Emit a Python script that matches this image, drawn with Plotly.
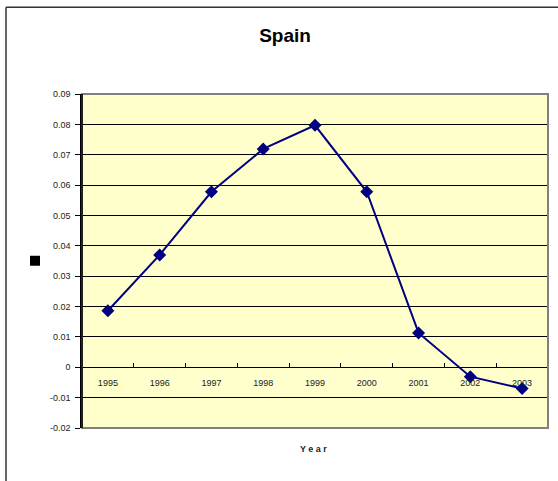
import plotly.graph_objects as go

years = ["1995", "1996", "1997", "1998", "1999", "2000", "2001", "2002", "2003"]
values = [0.0186, 0.0370, 0.0578, 0.0719, 0.0797, 0.0578, 0.0113, -0.0031, -0.0070]
y_ticks = [-0.02, -0.01, 0, 0.01, 0.02, 0.03, 0.04, 0.05, 0.06, 0.07, 0.08, 0.09]
y_tick_text = ["-0.02", "-0.01", "0", "0.01", "0.02", "0.03", "0.04", "0.05", "0.06", "0.07", "0.08", "0.09"]

W, H = 558, 481
L, R, T, B = 82, 548, 94, 428.5
pw, ph = R - L, B - T

def px(x):
    return (x - L) / pw

def py(y):
    return (B - y) / ph

ymin, ymax = -0.02, 0.09

fig = go.Figure()
fig.add_trace(go.Scatter(
    x=years, y=values, mode="lines+markers",
    line=dict(color="#000080", width=2),
    marker=dict(symbol="diamond", size=10, color="#000080"),
    showlegend=False, cliponaxis=False,
))

fig.update_layout(
    width=W, height=H,
    margin=dict(l=L, r=W - R, t=T, b=H - B),
    paper_bgcolor="white",
    plot_bgcolor="#FFFFCC",
    font=dict(family="Arial, Liberation Sans, sans-serif", color="#222222"),
    title=dict(text="<b>Spain</b>", x=285 / W, xanchor="center",
               y=1 - 35 / H, yanchor="middle", yref="container",
               font=dict(size=19, color="black")),
    xaxis=dict(
        type="category", anchor="free", position=(0 - ymin) / (ymax - ymin),
        showline=True, linecolor="black", linewidth=1,
        ticks="inside", ticklen=4, tickcolor="black", tickson="boundaries",
        showgrid=False, tickfont=dict(size=9, color="#222222"),
        ticklabelstandoff=7,
        range=[-0.5, 8.5], fixedrange=True,
    ),
    yaxis=dict(
        range=[ymin, ymax], tickvals=y_ticks, ticktext=y_tick_text,
        showgrid=True, gridcolor="black", gridwidth=1,
        zeroline=False,
        showline=True, linecolor="black", linewidth=1.5,
        ticks="outside", ticklen=5, tickcolor="black",
        ticklabelstandoff=3,
        tickfont=dict(size=9, color="#222222"),
    ),
    shapes=[
        dict(type="rect", xref="paper", yref="paper", x0=0, x1=1, y0=0, y1=1,
             line=dict(color="#808080", width=2), layer="above"),
        dict(type="line", xref="paper", yref="paper", x0=0, x1=0, y0=0, y1=1,
             line=dict(color="black", width=1.5), layer="above"),
        dict(type="line", xref="paper", yref="paper", x0=px(6), x1=px(W + 5),
             y0=py(7), y1=py(7), line=dict(color="#333333", width=1.5)),
        dict(type="line", xref="paper", yref="paper", x0=px(6), x1=px(6),
             y0=py(7), y1=py(H + 5), line=dict(color="#333333", width=1.5)),
        dict(type="rect", xref="paper", yref="paper", x0=px(30), x1=px(40),
             y0=py(266), y1=py(256), fillcolor="black", line=dict(width=0)),
    ],
    annotations=[
        dict(text="<b>Y e a r</b>", xref="paper", yref="paper",
             x=px(313), y=py(450), xanchor="center", yanchor="middle",
             showarrow=False, font=dict(size=9, color="#222222")),
    ],
)

fig.write_html("out.html", config={"displayModeBar": False},
               post_script="document.body.style.margin='0px';")
